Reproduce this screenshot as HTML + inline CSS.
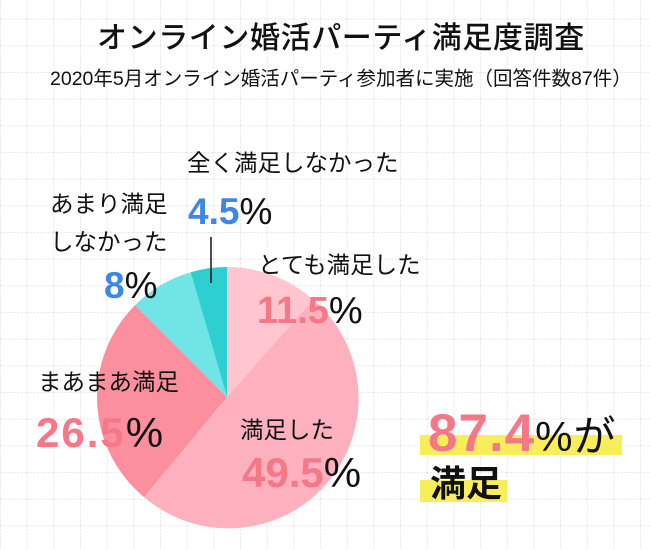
<!DOCTYPE html>
<html><head><meta charset="utf-8"><style>
html,body{margin:0;padding:0;}
body{width:650px;height:550px;position:relative;overflow:hidden;background:#fff;
font-family:"Liberation Sans","Noto Sans CJK JP",sans-serif;color:#111;}
.grid{position:absolute;left:0;top:0;}
.t{position:absolute;white-space:nowrap;line-height:1;}
.j{font-size:23.5px;}
.n{font-weight:bold;}
.p{color:#f47888;}
.b{color:#3d87e6;}
.pc{font-weight:normal;color:#111;}
.hl{position:absolute;background:#f7ee5a;}
</style></head><body>
<svg class="grid" width="650" height="550">
<defs><pattern id="g" x="0" y="-8" width="26.67" height="26.67" patternUnits="userSpaceOnUse">
<path d="M0.5 0V26.67M0 0.5H26.67" stroke="#e6e6e6" stroke-width="1" stroke-dasharray="2 1.5" fill="none"/></pattern></defs>
<rect width="650" height="550" fill="url(#g)"/>
<g>
<path d="M227 397 L227 267 A130 130 0 0 1 313 299.5 Z" fill="#ffc6d0"/>
<path d="M227 397 L313 299.5 A130 130 0 0 1 144.1 497.2 Z" fill="#fdb1be"/>
<path d="M227 397 L144.1 497.2 A130 130 0 0 1 135.1 305.1 Z" fill="#fc8f9e"/>
<path d="M227 397 L135.1 305.1 A130 130 0 0 1 190.7 272.2 Z" fill="#6fe6e5"/>
<path d="M227 397 L190.7 272.2 A130 130 0 0 1 227 267 Z" fill="#2dcfd0"/>
<line x1="211" y1="237" x2="211" y2="283" stroke="#111" stroke-width="1.5"/>
</g>
</svg>
<div class="t" style="left:97px;top:24px;font-size:30px;font-weight:500;letter-spacing:0.6px">オンライン婚活パーティ満足度調査</div>
<div class="t" style="left:50px;top:70px;font-size:19.5px;">2020年5月オンライン婚活パーティ参加者に実施（回答件数87件）</div>

<div class="t j" style="left:187px;top:152px">全く満足しなかった</div>
<div class="t n b" style="left:188px;top:193px;font-size:37px">4.5<span class="pc">%</span></div>

<div class="t j" style="left:50px;top:193px">あまり満足</div>
<div class="t j" style="left:50px;top:231px">しなかった</div>
<div class="t n b" style="left:104px;top:267px;font-size:37px">8<span class="pc">%</span></div>

<div class="t j" style="left:258px;top:254px">とても満足した</div>
<div class="t n p" style="left:257px;top:292px;font-size:38px">11.5<span class="pc">%</span></div>

<div class="t j" style="left:38px;top:371px">まあまあ満足</div>
<div class="t n p" style="left:36px;top:412px;font-size:42px;letter-spacing:2px">26.5<span class="pc">%</span></div>

<div class="t j" style="left:240px;top:419px">満足した</div>
<div class="t n p" style="left:242px;top:452px;font-size:42px">49.5<span class="pc">%</span></div>

<div class="hl" style="left:420px;top:435px;width:202px;height:20px"></div>
<div class="hl" style="left:420px;top:480px;width:87px;height:22px"></div>
<div class="t n p" style="left:428px;top:407px;font-size:53px;letter-spacing:1px">87.4<span class="pc" style="font-size:42px">%が</span></div>
<div class="t" style="left:430px;top:466px;font-size:36px;font-weight:bold">満足</div>
</body></html>
